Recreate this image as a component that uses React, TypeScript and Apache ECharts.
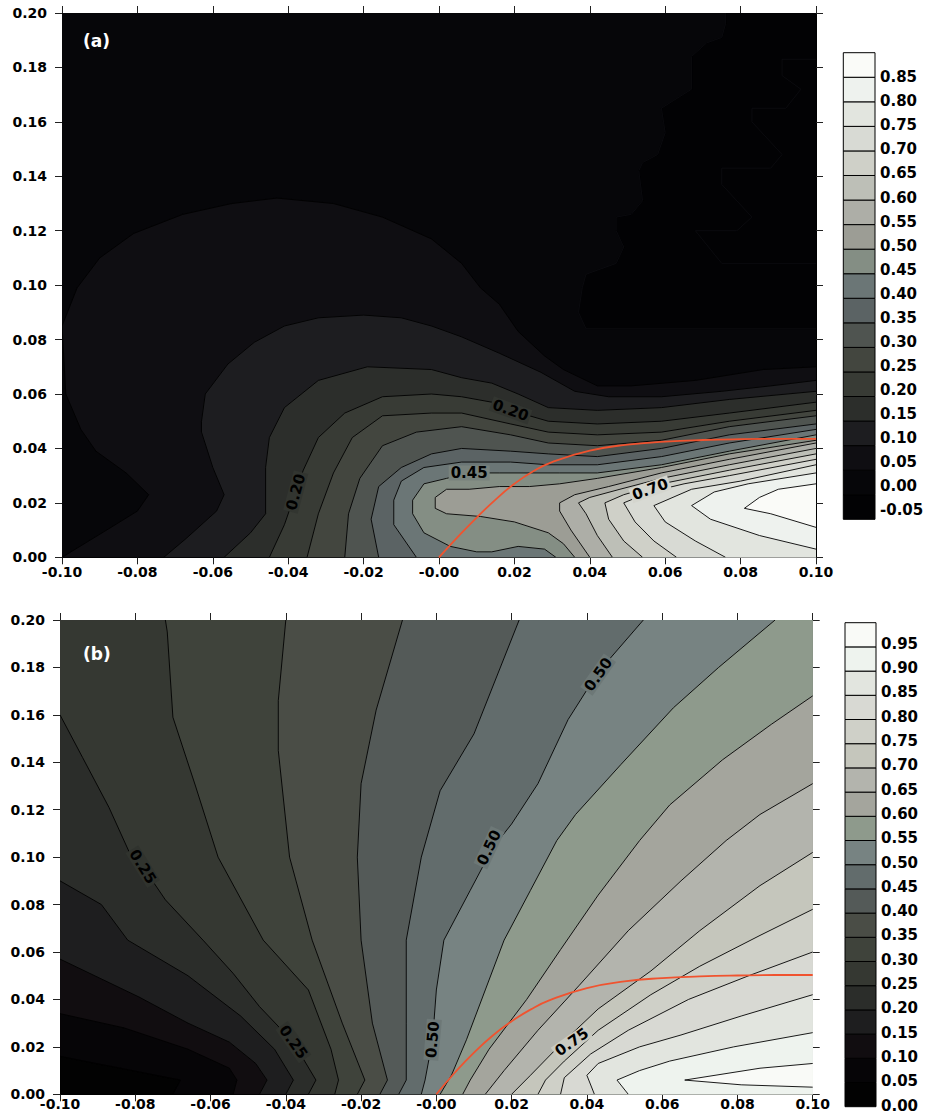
import React, { useEffect, useRef } from "react";
import * as echarts from "echarts";

type Pt = [number, number];

// ---------- tick labels ----------
const xTickLabels = ["-0.10", "-0.08", "-0.06", "-0.04", "-0.02", "-0.00", "0.02", "0.04", "0.06", "0.08", "0.10"];
const yTickLabels = ["0.00", "0.02", "0.04", "0.06", "0.08", "0.10", "0.12", "0.14", "0.16", "0.18", "0.20"];

// ---------- colour scales ----------
const levelsA = [-0.05, 0.0, 0.05, 0.1, 0.15, 0.2, 0.25, 0.3, 0.35, 0.4, 0.45, 0.5, 0.55, 0.6, 0.65, 0.7, 0.75, 0.8, 0.85];
const bandColorsA = ["#020204", "#060609", "#0f0e12", "#1d1d20", "#2c2e2b", "#383b35", "#43463f", "#4f5450", "#5b6364", "#6b7676", "#848e84", "#9c9d95", "#adaea7", "#bdbfb7", "#cfd0c8", "#d8dad4", "#e2e5df", "#eef2ee", "#fafbf8"];
const cbLabelsA = ["-0.05", "0.00", "0.05", "0.10", "0.15", "0.20", "0.25", "0.30", "0.35", "0.40", "0.45", "0.50", "0.55", "0.60", "0.65", "0.70", "0.75", "0.80", "0.85"];

const levelsB = [0.0, 0.05, 0.1, 0.15, 0.2, 0.25, 0.3, 0.35, 0.4, 0.45, 0.5, 0.55, 0.6, 0.65, 0.7, 0.75, 0.8, 0.85, 0.9, 0.95];
const bandColorsB = ["#020202", "#060507", "#110d10", "#1e1e1f", "#2b2d2a", "#353832", "#3f433b", "#4a4d46", "#545a58", "#626c6c", "#778382", "#8e9a8c", "#a4a59d", "#b3b4ad", "#c5c6bc", "#cfd0c8", "#d8d9d3", "#e2e5df", "#eef3ee", "#f9faf7"];
const cbLabelsB = ["0.00", "0.05", "0.10", "0.15", "0.20", "0.25", "0.30", "0.35", "0.40", "0.45", "0.50", "0.55", "0.60", "0.65", "0.70", "0.75", "0.80", "0.85", "0.90", "0.95"];

// ---------- red curves ----------
const redX = [0, 0.005, 0.01, 0.015, 0.02, 0.025, 0.03, 0.04, 0.05, 0.06, 0.07, 0.08, 0.09, 0.1];
const redYA = [0, 0.0075, 0.0146, 0.0212, 0.027, 0.0316, 0.035, 0.0392, 0.0414, 0.0425, 0.0431, 0.0434, 0.0435, 0.0435];
const redYB = [0, 0.0093, 0.0176, 0.0248, 0.0308, 0.0357, 0.0396, 0.0448, 0.0476, 0.049, 0.0497, 0.0501, 0.0503, 0.0503];

// ---------- plot corners (data space) ----------
const frame: Pt[] = [[-0.1, 0], [0.1, 0], [0.1, 0.2], [-0.1, 0.2]];
const cBR: Pt[] = [[0.1, 0]];
const cTR: Pt[] = [[0.1, 0.2]];
const cBR_TR: Pt[] = [[0.1, 0], [0.1, 0.2]];
const cBR_TR_TL: Pt[] = [[0.1, 0], [0.1, 0.2], [-0.1, 0.2]];

// ---------- panel (a) contour lines ----------
const zigA1: Pt[] = [[0.076, 0.2], [0.076, 0.196], [0.075, 0.191], [0.071, 0.189], [0.067, 0.184], [0.067, 0.172], [0.059, 0.165], [0.06, 0.156], [0.058, 0.148], [0.054, 0.145], [0.053, 0.142], [0.054, 0.131], [0.051, 0.126], [0.047, 0.125], [0.047, 0.12], [0.049, 0.114], [0.047, 0.108], [0.039, 0.104], [0.038, 0.099], [0.037, 0.09], [0.039, 0.084], [0.1, 0.084]];
const zigA2: Pt[] = [[0.1, 0.183], [0.091, 0.183], [0.091, 0.177], [0.096, 0.172], [0.092, 0.165], [0.083, 0.165], [0.083, 0.16], [0.091, 0.148], [0.088, 0.143], [0.075, 0.143], [0.075, 0.137], [0.083, 0.125], [0.079, 0.12], [0.068, 0.12], [0.075, 0.108], [0.1, 0.108]];
const a005: Pt[] = [[-0.1, 0], [-0.087, 0.011], [-0.08, 0.017], [-0.077, 0.023], [-0.083, 0.031], [-0.091, 0.039], [-0.095, 0.047], [-0.099, 0.06], [-0.1, 0.085], [-0.096, 0.099], [-0.09, 0.11], [-0.081, 0.119], [-0.068, 0.126], [-0.055, 0.13], [-0.043, 0.132], [-0.028, 0.13], [-0.015, 0.125], [-0.002, 0.117], [0.006, 0.108], [0.011, 0.099], [0.016, 0.093], [0.021, 0.083], [0.028, 0.074], [0.033, 0.069], [0.042, 0.063], [0.051, 0.063], [0.068, 0.065], [0.086, 0.069], [0.1, 0.07]];
const a010: Pt[] = [[-0.073, 0], [-0.067, 0.007], [-0.059, 0.017], [-0.057, 0.023], [-0.06, 0.033], [-0.063, 0.046], [-0.063, 0.05], [-0.062, 0.06], [-0.056, 0.071], [-0.049, 0.079], [-0.041, 0.085], [-0.032, 0.088], [-0.02, 0.089], [-0.01, 0.088], [-0.002, 0.085], [0.006, 0.081], [0.016, 0.075], [0.027, 0.068], [0.036, 0.061], [0.045, 0.059], [0.059, 0.059], [0.075, 0.061], [0.088, 0.063], [0.1, 0.065]];
const a015: Pt[] = [[-0.057, 0], [-0.05, 0.009], [-0.046, 0.016], [-0.046, 0.033], [-0.045, 0.044], [-0.041, 0.055], [-0.032, 0.065], [-0.019, 0.07], [-0.002, 0.069], [0.006, 0.066], [0.014, 0.064], [0.021, 0.06], [0.029, 0.055], [0.042, 0.054], [0.059, 0.055], [0.077, 0.058], [0.1, 0.061]];
const a020: Pt[] = [[-0.045, 0], [-0.041, 0.012], [-0.038, 0.024], [-0.036, 0.032], [-0.032, 0.044], [-0.025, 0.053], [-0.015, 0.059], [-0.002, 0.06], [0.006, 0.059], [0.014, 0.057], [0.019, 0.054], [0.029, 0.05], [0.042, 0.049], [0.059, 0.05], [0.077, 0.053], [0.1, 0.057]];
const a025: Pt[] = [[-0.035, 0], [-0.032, 0.016], [-0.028, 0.031], [-0.023, 0.044], [-0.015, 0.052], [-0.002, 0.053], [0.006, 0.053], [0.019, 0.049], [0.029, 0.046], [0.042, 0.045], [0.059, 0.046], [0.077, 0.05], [0.1, 0.054]];
const a030: Pt[] = [[-0.025, 0], [-0.024, 0.016], [-0.021, 0.029], [-0.015, 0.041], [-0.006, 0.046], [0.006, 0.048], [0.019, 0.045], [0.029, 0.042], [0.042, 0.041], [0.059, 0.043], [0.077, 0.048], [0.1, 0.052]];
const a035: Pt[] = [[-0.016, 0], [-0.018, 0.014], [-0.016, 0.026], [-0.01, 0.033], [-0.002, 0.038], [0.006, 0.04], [0.019, 0.039], [0.029, 0.038], [0.042, 0.037], [0.059, 0.04], [0.077, 0.045], [0.1, 0.049]];
const a040: Pt[] = [[-0.006, 0], [-0.012, 0.012], [-0.012, 0.021], [-0.01, 0.028], [-0.004, 0.033], [0.006, 0.035], [0.019, 0.035], [0.029, 0.034], [0.042, 0.034], [0.059, 0.037], [0.077, 0.042], [0.1, 0.047]];
const a045: Pt[] = [[0.031, 0], [0.028, 0.003], [0.021, 0.004], [0.014, 0.002], [0.01, 0.002], [0.003, 0.004], [-0.004, 0.009], [-0.007, 0.016], [-0.007, 0.021], [-0.004, 0.027], [0.002, 0.029], [0.008, 0.031], [0.016, 0.031], [0.024, 0.031], [0.032, 0.031], [0.042, 0.031], [0.059, 0.034], [0.077, 0.039], [0.1, 0.045]];
const a050: Pt[] = [[0.036, 0], [0.033, 0.005], [0.029, 0.009], [0.02, 0.013], [0.011, 0.015], [0.002, 0.016], [-0.001, 0.018], [-0.001, 0.022], [0.002, 0.025], [0.008, 0.025], [0.016, 0.026], [0.024, 0.026], [0.032, 0.027], [0.042, 0.029], [0.059, 0.033], [0.077, 0.038], [0.1, 0.043]];
const a055: Pt[] = [[0.1, 0.042], [0.077, 0.036], [0.059, 0.031], [0.045, 0.026], [0.036, 0.023], [0.032, 0.02], [0.032, 0.017], [0.035, 0.01], [0.04, 0]];
const a060: Pt[] = [[0.1, 0.04], [0.077, 0.034], [0.059, 0.029], [0.048, 0.025], [0.04, 0.022], [0.037, 0.02], [0.039, 0.016], [0.042, 0.008], [0.046, 0]];
const a065: Pt[] = [[0.1, 0.038], [0.077, 0.032], [0.059, 0.027], [0.049, 0.023], [0.044, 0.02], [0.045, 0.014], [0.049, 0.006], [0.054, 0]];
const a070: Pt[] = [[0.1, 0.036], [0.077, 0.03], [0.065, 0.027], [0.056, 0.024], [0.049, 0.02], [0.052, 0.013], [0.057, 0.006], [0.063, 0]];
const a075: Pt[] = [[0.1, 0.034], [0.08, 0.028], [0.067, 0.025], [0.057, 0.019], [0.06, 0.013], [0.068, 0.006], [0.076, 0]];
const a080: Pt[] = [[0.1, 0.031], [0.082, 0.027], [0.073, 0.024], [0.067, 0.019], [0.072, 0.014], [0.085, 0.008], [0.1, 0.003]];
const a085: Pt[] = [[0.1, 0.027], [0.09, 0.025], [0.085, 0.022], [0.081, 0.018], [0.088, 0.016], [0.1, 0.011]];

const labelsA = [
  { text: "0.20", x: -0.038, y: 0.024, rot: 75, band: 5 },
  { text: "0.20", x: 0.019, y: 0.054, rot: -20, band: 5 },
  { text: "0.45", x: 0.008, y: 0.031, rot: 0, band: 10 },
  { text: "0.70", x: 0.056, y: 0.025, rot: 20, band: 15 },
];

// ---------- panel (b) contour lines ----------
const b005: Pt[] = [[-0.1, 0.016], [-0.084, 0.011], [-0.068, 0.006], [-0.07, 0]];
const b010: Pt[] = [[-0.1, 0.034], [-0.083, 0.028], [-0.066, 0.019], [-0.055, 0.011], [-0.053, 0.006], [-0.054, 0]];
const b015: Pt[] = [[-0.1, 0.057], [-0.079, 0.041], [-0.066, 0.03], [-0.055, 0.022], [-0.048, 0.013], [-0.045, 0.006], [-0.047, 0]];
const b020: Pt[] = [[-0.1, 0.09], [-0.089, 0.08], [-0.082, 0.065], [-0.066, 0.05], [-0.052, 0.033], [-0.043, 0.019], [-0.038, 0.006], [-0.04, 0]];
const b025: Pt[] = [[-0.1, 0.16], [-0.094, 0.142], [-0.087, 0.121], [-0.081, 0.1], [-0.078, 0.096], [-0.072, 0.082], [-0.062, 0.065], [-0.054, 0.051], [-0.047, 0.037], [-0.038, 0.022], [-0.032, 0.006], [-0.034, 0]];
const b030: Pt[] = [[-0.072, 0.2], [-0.0715, 0.195], [-0.07, 0.159], [-0.064, 0.13], [-0.058, 0.1], [-0.046, 0.065], [-0.034, 0.044], [-0.028, 0.019], [-0.026, 0.006], [-0.027, 0]];
const b035: Pt[] = [[-0.04, 0.2], [-0.042, 0.166], [-0.042, 0.145], [-0.039, 0.1], [-0.033, 0.065], [-0.025, 0.03], [-0.019, 0.006], [-0.021, 0]];
const b040: Pt[] = [[-0.009, 0.2], [-0.016, 0.162], [-0.02, 0.131], [-0.021, 0.1], [-0.02, 0.065], [-0.017, 0.03], [-0.013, 0.006], [-0.015, 0]];
const b045: Pt[] = [[0.022, 0.2], [0.01, 0.152], [0.001, 0.128], [-0.004, 0.1], [-0.008, 0.065], [-0.008, 0.03], [-0.008, 0.006], [-0.01, 0]];
const b050: Pt[] = [[0.055, 0.2], [0.043, 0.178], [0.035, 0.158], [0.027, 0.131], [0.02, 0.114], [0.015, 0.104], [0.009, 0.086], [0.002, 0.065], [0.0, 0.044], [-0.001, 0.023], [-0.003, 0.006], [-0.004, 0]];
const b055: Pt[] = [[0.09, 0.2], [0.075, 0.18], [0.063, 0.163], [0.049, 0.139], [0.037, 0.118], [0.032, 0.107], [0.025, 0.086], [0.018, 0.065], [0.013, 0.044], [0.008, 0.023], [0.004, 0.008], [0.001, 0]];
const b060: Pt[] = [[0.1, 0.168], [0.089, 0.156], [0.076, 0.141], [0.062, 0.122], [0.054, 0.107], [0.043, 0.084], [0.033, 0.061], [0.024, 0.04], [0.014, 0.019], [0.009, 0.006], [0.007, 0]];
const b065: Pt[] = [[0.1, 0.131], [0.086, 0.118], [0.077, 0.107], [0.065, 0.09], [0.051, 0.069], [0.038, 0.046], [0.027, 0.027], [0.018, 0.01], [0.013, 0]];
const b070: Pt[] = [[0.1, 0.102], [0.086, 0.088], [0.07, 0.069], [0.057, 0.052], [0.043, 0.036], [0.033, 0.021], [0.025, 0.008], [0.02, 0]];
const b075: Pt[] = [[0.1, 0.078], [0.086, 0.067], [0.07, 0.054], [0.057, 0.042], [0.043, 0.027], [0.034, 0.014], [0.029, 0.006], [0.027, 0]];
const b080: Pt[] = [[0.1, 0.06], [0.083, 0.05], [0.067, 0.04], [0.051, 0.027], [0.041, 0.017], [0.034, 0.007], [0.033, 0]];
const b085: Pt[] = [[0.1, 0.042], [0.081, 0.033], [0.065, 0.025], [0.054, 0.02], [0.043, 0.013], [0.04, 0.008], [0.042, 0]];
const b090: Pt[] = [[0.1, 0.026], [0.079, 0.02], [0.062, 0.014], [0.054, 0.01], [0.048, 0.006], [0.051, 0]];
const b095: Pt[] = [[0.1, 0.013], [0.086, 0.011], [0.066, 0.006], [0.081, 0.004], [0.1, 0.003]];

const labelsB = [
  { text: "0.25", x: -0.078, y: 0.096, rot: -58, band: 5 },
  { text: "0.25", x: -0.038, y: 0.022, rot: -55, band: 5 },
  { text: "0.50", x: -0.001, y: 0.023, rot: 85, band: 10 },
  { text: "0.50", x: 0.014, y: 0.104, rot: 65, band: 10 },
  { text: "0.50", x: 0.043, y: 0.177, rot: 55, band: 10 },
  { text: "0.75", x: 0.036, y: 0.022, rot: 35, band: 15 },
];

// ---------- build fill / line tables ----------
type Fill = { band: number; pts: Pt[] };
type Line = { pts: Pt[]; faint?: boolean };

const fillsA: Fill[] = [
  { band: 1, pts: frame },
  { band: 0, pts: [...zigA1, ...cTR] },
  { band: 2, pts: [...a005, ...cBR] },
  { band: 3, pts: [...a010, ...cBR] },
  { band: 4, pts: [...a015, ...cBR] },
  { band: 5, pts: [...a020, ...cBR] },
  { band: 6, pts: [...a025, ...cBR] },
  { band: 7, pts: [...a030, ...cBR] },
  { band: 8, pts: [...a035, ...cBR] },
  { band: 9, pts: [...a040, ...cBR] },
  { band: 10, pts: [...a045, ...cBR] },
  { band: 11, pts: [...a050, ...cBR] },
  { band: 12, pts: [...a055, ...cBR] },
  { band: 13, pts: [...a060, ...cBR] },
  { band: 14, pts: [...a065, ...cBR] },
  { band: 15, pts: [...a070, ...cBR] },
  { band: 16, pts: [...a075, ...cBR] },
  { band: 17, pts: a080 },
  { band: 18, pts: a085 },
];
const linesA: Line[] = [
  { pts: zigA1, faint: true },
  { pts: zigA2, faint: true },
  ...[a005, a010, a015, a020, a025, a030, a035, a040, a045, a050, a055, a060, a065, a070, a075, a080, a085].map((pts) => ({ pts })),
];

const fillsB: Fill[] = [
  { band: 0, pts: frame },
  { band: 1, pts: [...b005, ...cBR_TR_TL] },
  { band: 2, pts: [...b010, ...cBR_TR_TL] },
  { band: 3, pts: [...b015, ...cBR_TR_TL] },
  { band: 4, pts: [...b020, ...cBR_TR_TL] },
  { band: 5, pts: [...b025, ...cBR_TR_TL] },
  { band: 6, pts: [...b030, ...cBR_TR] },
  { band: 7, pts: [...b035, ...cBR_TR] },
  { band: 8, pts: [...b040, ...cBR_TR] },
  { band: 9, pts: [...b045, ...cBR_TR] },
  { band: 10, pts: [...b050, ...cBR_TR] },
  { band: 11, pts: [...b055, ...cBR_TR] },
  { band: 12, pts: [...b060, ...cBR] },
  { band: 13, pts: [...b065, ...cBR] },
  { band: 14, pts: [...b070, ...cBR] },
  { band: 15, pts: [...b075, ...cBR] },
  { band: 16, pts: [...b080, ...cBR] },
  { band: 17, pts: [...b085, ...cBR] },
  { band: 18, pts: [...b090, ...cBR] },
  { band: 19, pts: b095 },
];
const linesB: Line[] = [b005, b010, b015, b020, b025, b030, b035, b040, b045, b050, b055, b060, b065, b070, b075, b080, b085, b090, b095].map((pts) => ({ pts }));

const FONT = '"DejaVu Sans", "Liberation Sans", sans-serif';

function mix(c1: string, c2: string) {
  const a = parseInt(c1.slice(1), 16);
  const b = parseInt(c2.slice(1), 16);
  const ch = (s: number) => Math.round((((a >> s) & 255) + ((b >> s) & 255)) / 2);
  return `rgb(${ch(16)},${ch(8)},${ch(0)})`;
}

function fillSeries(fills: Fill[], colors: string[], ax: number) {
  return {
    type: "custom",
    xAxisIndex: ax,
    yAxisIndex: ax,
    clip: true,
    silent: true,
    z: 1,
    data: fills.map(() => [0, 0.1]),
    renderItem: (params: any, api: any) => {
      const f = fills[params.dataIndex];
      return {
        type: "polygon",
        z2: params.dataIndex,
        shape: { points: f.pts.map((p) => api.coord(p)) },
        style: { fill: colors[f.band], stroke: colors[f.band], lineWidth: 0.6 },
      };
    },
  };
}

function lineSeries(lines: Line[], ax: number) {
  return {
    type: "custom",
    xAxisIndex: ax,
    yAxisIndex: ax,
    clip: true,
    silent: true,
    z: 2,
    data: lines.map(() => [0, 0.1]),
    renderItem: (params: any, api: any) => {
      const l = lines[params.dataIndex];
      return {
        type: "polyline",
        shape: { points: l.pts.map((p) => api.coord(p)) },
        style: { stroke: l.faint ? "#111115" : "#000", lineWidth: l.faint ? 0.6 : 0.9, fill: null },
      };
    },
  };
}

function labelSeries(labels: any[], colors: string[], ax: number) {
  return {
    type: "custom",
    xAxisIndex: ax,
    yAxisIndex: ax,
    silent: true,
    z: 3,
    data: labels.map((l) => [l.x, l.y]),
    renderItem: (params: any, api: any) => {
      const l = labels[params.dataIndex];
      const p = api.coord([api.value(0), api.value(1)]);
      return {
        type: "text",
        x: p[0],
        y: p[1],
        rotation: (l.rot * Math.PI) / 180,
        style: {
          text: l.text,
          fill: "#000",
          font: `bold 15px ${FONT}`,
          align: "center",
          verticalAlign: "middle",
          backgroundColor: mix(colors[l.band - 1], colors[l.band]),
          padding: [0, 2],
        },
      };
    },
  };
}

function colorbarSeries(levels: number[], colors: string[], ax: number) {
  return {
    type: "custom",
    xAxisIndex: ax,
    yAxisIndex: ax,
    silent: true,
    z: 2,
    data: levels.map((v, i) => [i, v]),
    renderItem: (params: any, api: any) => {
      const lo = api.value(1);
      const hi = lo + 0.05;
      const p0 = api.coord([0, lo]);
      const p1 = api.coord([1, hi]);
      return {
        type: "rect",
        shape: { x: p0[0], y: p1[1], width: p1[0] - p0[0], height: p0[1] - p1[1] },
        style: { fill: colors[params.dataIndex], stroke: "#000", lineWidth: 1 },
      };
    },
  };
}

const axisLabelStyle = { color: "#000", fontFamily: FONT, fontWeight: "bold", fontSize: 14 };
const lineBlack = { show: true, onZero: false, lineStyle: { color: "#000", width: 1 } };
const tickStyle = { show: true, length: 7, inside: false, lineStyle: { color: "#222", width: 1 } };

function plotXAxes(grid: number, labelMargin: number) {
  return [
    {
      type: "value", gridIndex: grid, position: "bottom", min: -0.1, max: 0.1, interval: 0.02,
      axisLine: lineBlack, axisTick: tickStyle, splitLine: { show: false },
      axisLabel: { ...axisLabelStyle, margin: labelMargin, formatter: (v: number) => xTickLabels[Math.round((v + 0.1) / 0.02)] ?? "" },
    },
    {
      type: "value", gridIndex: grid, position: "top", min: -0.1, max: 0.1, interval: 0.02,
      axisLine: lineBlack, axisTick: tickStyle, splitLine: { show: false }, axisLabel: { show: false },
    },
  ];
}
function plotYAxes(grid: number) {
  return [
    {
      type: "value", gridIndex: grid, position: "left", min: 0, max: 0.2, interval: 0.02,
      axisLine: lineBlack, axisTick: tickStyle, splitLine: { show: false },
      axisLabel: { ...axisLabelStyle, margin: 15, formatter: (v: number) => yTickLabels[Math.round(v / 0.02)] ?? "" },
    },
    {
      type: "value", gridIndex: grid, position: "right", min: 0, max: 0.2, interval: 0.02,
      axisLine: lineBlack, axisTick: tickStyle, splitLine: { show: false }, axisLabel: { show: false },
    },
  ];
}
const hiddenX = (grid: number) => ({ type: "value", gridIndex: grid, min: 0, max: 1, show: false });
const hiddenY = (grid: number, min: number, max: number) => ({ type: "value", gridIndex: grid, min, max, show: false });
function cbLabelAxis(grid: number, min: number, max: number, labels: string[]) {
  return {
    type: "value", gridIndex: grid, position: "right", min, max, interval: 0.05,
    axisLine: { show: false }, axisTick: { show: false }, splitLine: { show: false },
    axisLabel: {
      ...axisLabelStyle, fontSize: 15, margin: 5,
      formatter: (v: number) => labels[Math.round((v - min) / 0.05)] ?? "",
    },
  };
}

const gridBase = { containLabel: false, outerBoundsMode: "none" };

const option: any = {
  animation: false,
  backgroundColor: "#ffffff",
  grid: [
    { ...gridBase, left: 62, top: 13, width: 754, height: 544.3 },
    { ...gridBase, left: 60, top: 620, width: 752.7, height: 474.3 },
    { ...gridBase, left: 843.3, top: 52.7, width: 31.7, height: 466.6 },
    { ...gridBase, left: 843.3, top: 53.2, width: 31.7, height: 457.1 },
    { ...gridBase, left: 845, top: 622.7, width: 31, height: 484 },
    { ...gridBase, left: 845, top: 619.5, width: 31, height: 486 },
  ],
  xAxis: [...plotXAxes(0, 8), ...plotXAxes(1, 3), hiddenX(2), hiddenX(3), hiddenX(4), hiddenX(5)],
  yAxis: [
    ...plotYAxes(0),
    ...plotYAxes(1),
    hiddenY(2, -0.05, 0.9),
    cbLabelAxis(3, -0.05, 0.9, cbLabelsA),
    hiddenY(4, 0, 1),
    cbLabelAxis(5, 0, 1, cbLabelsB),
  ],
  series: [
    fillSeries(fillsA, bandColorsA, 0),
    lineSeries(linesA, 0),
    labelSeries(labelsA, bandColorsA, 0),
    {
      type: "line", xAxisIndex: 0, yAxisIndex: 0, silent: true, z: 5,
      data: redX.map((x, i) => [x, redYA[i]]), smooth: 0.5, symbol: "none",
      lineStyle: { color: "#f0532f", width: 1.8 },
    },
    fillSeries(fillsB, bandColorsB, 2),
    lineSeries(linesB, 2),
    labelSeries(labelsB, bandColorsB, 2),
    {
      type: "line", xAxisIndex: 2, yAxisIndex: 2, silent: true, z: 5,
      data: redX.map((x, i) => [x, redYB[i]]), smooth: 0.5, symbol: "none",
      lineStyle: { color: "#f0532f", width: 1.8 },
    },
    colorbarSeries(levelsA, bandColorsA, 4),
    colorbarSeries(levelsB, bandColorsB, 6),
  ],
  graphic: [
    { type: "text", left: 83, top: 32, z: 100, style: { text: "(a)", fill: "#fff", font: `bold 17px ${FONT}` } },
    { type: "text", left: 83, top: 645, z: 100, style: { text: "(b)", fill: "#fff", font: `bold 17px ${FONT}` } },
  ],
};

export default function App() {
  const ref = useRef<HTMLDivElement>(null);
  useEffect(() => {
    document.body.style.margin = "0";
    const chart = echarts.init(ref.current!, undefined, { renderer: "svg" });
    chart.setOption(option);
    return () => chart.dispose();
  }, []);
  return <div ref={ref} style={{ width: 925, height: 1116 }} />;
}
